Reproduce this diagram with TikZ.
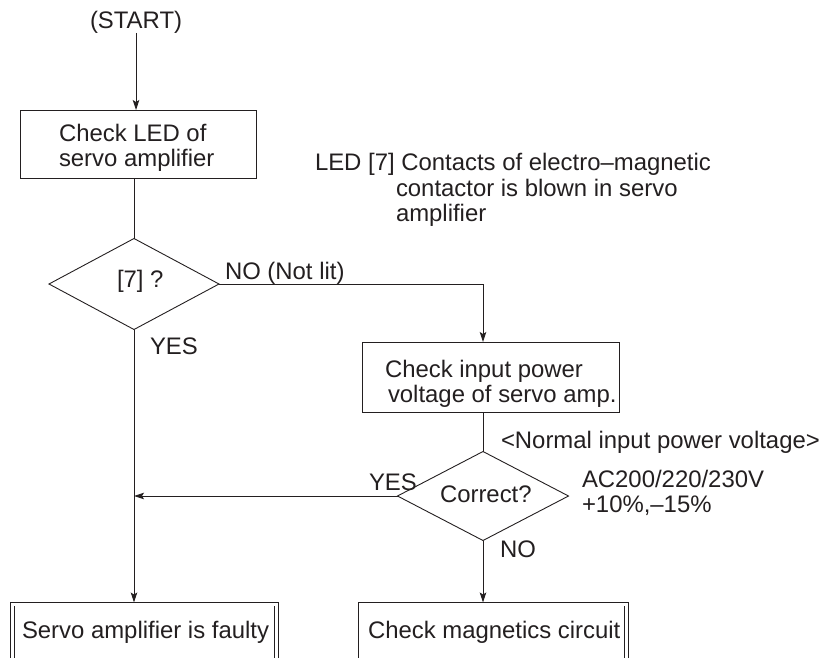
\documentclass[tikz,border=0pt]{standalone}
\usepackage{fontspec}
\setmainfont{Liberation Sans}
\usetikzlibrary{shapes.geometric,arrows.meta}
\definecolor{ink}{RGB}{35,31,32}
\begin{document}
\begin{tikzpicture}[x=1pt,y=-1pt,
  every node/.style={font=\fontsize{23.9}{26}\selectfont, text=ink, inner sep=0pt, outer sep=0pt},
  txt/.style={anchor=base west},
  ln/.style={line width=0.9pt, draw=ink},
  arr/.style={ln, -{Stealth[length=10pt,width=6.5pt,inset=2pt]}},
  box/.style={draw=ink, line width=0.9pt, rectangle},
  dbox/.style={draw=ink, line width=0.9pt, double, double distance=3pt, rectangle},
  dia/.style={draw=ink, line width=0.9pt, diamond}
]
\useasboundingbox (0,0) rectangle (827,657);

% start
\node[txt] (start) at (90,28) {(START)};

% box 1
\node[box, minimum width=236pt, minimum height=68pt] (b1) at (138,144) {};
\node[txt] (b1a) at (59,141) {Check LED of};
\node[txt] (b1b) at (59,166) {servo amplifier};

% decision 1
\node[dia, minimum width=170pt, minimum height=91pt] (d1) at (134,284) {};
\node[txt] (d1t) at (117,287) {[7] ?};

% box 2
\node[box, minimum width=257pt, minimum height=70pt] (b2) at (490.5,377) {};
\node[txt] (b2a) at (385,377) {Check input power};
\node[txt] (b2b) at (388,402) {voltage of servo amp.};

% decision 2
\node[dia, minimum width=171pt, minimum height=89pt] (d2) at (483,496) {};
\node[txt] (d2t) at (440,502) {Correct?};

% end boxes
\node[dbox, minimum width=264pt, minimum height=100pt, anchor=north] (b3) at (144.5,604) {};
\node[txt] (b3t) at (22,638) {Servo amplifier is faulty};
\node[dbox, minimum width=266.5pt, minimum height=100pt, anchor=north] (b4) at (493.25,604) {};
\node[txt] (b4t) at (368,638) {Check magnetics circuit};

% labels
\node[txt] (l1) at (225,279) {NO (Not lit)};
\node[txt] (l2) at (150,354) {YES};
\node[txt] (l3) at (369,490) {YES};
\node[txt] (l4) at (500,557) {NO};

% notes
\node[txt] (n1) at (315,170) {LED [7] Contacts of electro–magnetic};
\node[txt] (n2) at (396,196) {contactor is blown in servo};
\node[txt] (n3) at (396,221) {amplifier};
\node[txt] (n4) at (501,448) {<Normal input power voltage>};
\node[txt] (n5) at (582,487) {AC200/220/230V};
\node[txt] (n6) at (582,512) {+10\%,–15\%};

% connectors
\draw[arr] (start.south) -- (start.south |- b1.north);
\draw[ln] (d1.north |- b1.south) -- (d1.north);
\draw[arr] (d1.east) -| (d2.north |- b2.north);
\draw[ln] (d2.north |- b2.south) -- (d2.north);
\draw[arr] (d2.west) -- (d2.west -| d1.south);
\draw[arr, shorten >=1.5pt] (d1.south) -- (d1.south |- b3.north);
\draw[arr, shorten >=1.5pt] (d2.south) -- (d2.south |- b4.north);
\end{tikzpicture}
\end{document}
